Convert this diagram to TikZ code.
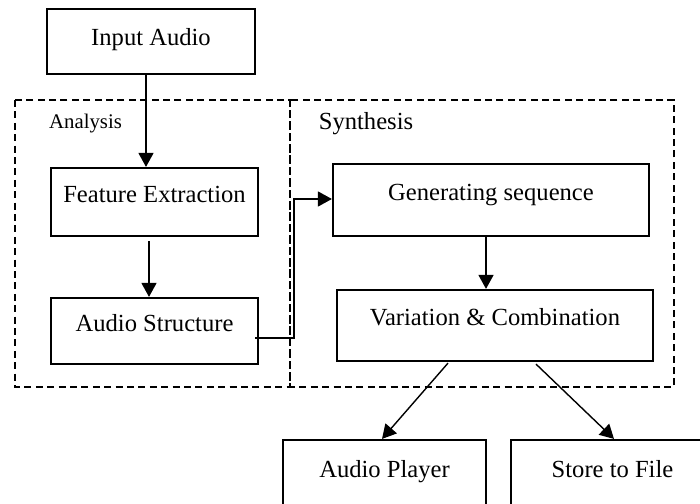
\documentclass[tikz,border=0pt]{standalone}
\usepackage{fontspec}
\setmainfont{Liberation Serif}
\usetikzlibrary{arrows.meta}

\begin{document}
\begin{tikzpicture}[x=0.5pt, y=-0.5pt, font=\fontsize{12.3}{14}\selectfont,
    blok/.style={rectangle, draw=black, line width=1.1pt, text centered, align=center,
                 text height=9pt, text depth=9pt, inner sep=0pt},
    okvir/.style={draw=black, line width=1pt, dash pattern=on 3.5pt off 2.2pt},
    tok/.style={-{Triangle[length=7pt, width=7.5pt]}, line width=0.7pt, draw=black}]

    \useasboundingbox (0,0) rectangle (700,503);
    \clip (0,0) rectangle (700,503);

    % groups
    \draw [okvir] (15,100) rectangle (290,387);
    \draw [okvir] (290,100) rectangle (674,387);
    \node (ana) [font=\fontsize{10.4}{12}\selectfont] at (85.5,124) {Analysis};
    \node (syn) at (366,124) {Synthesis};

    \node (inp)    [blok, text depth=5pt, minimum width=104pt, minimum height=32.5pt] at (151,41.5) {Input Audio};
    \node (feat)   [blok, minimum width=103.5pt, minimum height=34pt] at (154.5,202) {Feature Extraction};
    \node (struct) [blok, minimum width=103.5pt, minimum height=33pt] at (154.5,331) {Audio Structure};
    \node (gen)    [blok, minimum width=158pt, minimum height=36pt] at (491,200)     {Generating sequence};
    \node (var)    [blok, minimum width=158pt, minimum height=35.5pt] at (495,325.5) {Variation \& Combination};
    \node (play)   [blok, text depth=12pt, minimum width=101.5pt, minimum height=40pt] at (384.5,480) {Audio Player};
    \node (store)  [blok, text depth=12pt, minimum width=101.5pt, minimum height=40pt] at (612.5,480) {Store to File};

    % flows
    \draw [tok] ([shift={(-5,0)}]inp.south) -- ([shift={(-5,0)}]inp.south |- feat.north);
    \draw [tok] ([shift={(-5.5,4)}]feat.south) -- ([shift={(-5.5,0)}]struct.north);
    \draw [tok] ([shift={(-4,7)}]struct.east) -- ++(39,0) |- ([shift={(0,-1)}]gen.west);
    \draw [tok] ([shift={(-5,0)}]gen.south) -- ([shift={(-9,0)}]var.north);
    \draw [tok] ([shift={(-47,1)}]var.south) -- ([shift={(-2.5,0)}]play.north);
    \draw [tok] ([shift={(41,2)}]var.south) -- ([shift={(1.5,0)}]store.north);
\end{tikzpicture}
\end{document}
